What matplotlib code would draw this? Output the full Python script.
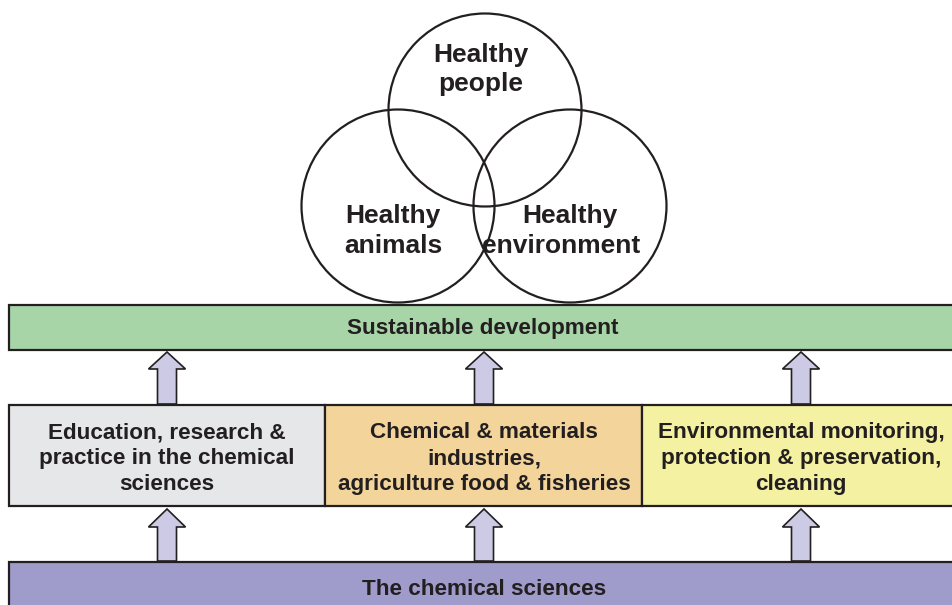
import matplotlib
matplotlib.use("Agg")
import matplotlib.pyplot as plt
from matplotlib.patches import Circle, Rectangle, FancyArrow

plt.rcParams['font.family'] = ['Liberation Sans', 'DejaVu Sans']

# Textos do diagrama
circle_labels = ['Healthy\npeople', 'Healthy\nanimals', 'Healthy\nenvironment']
top_label = 'Sustainable development'
middle_labels = ['Education, research &\npractice in the chemical\nsciences',
                 'Chemical & materials\nindustries,\nagriculture food & fisheries',
                 'Environmental monitoring,\nprotection & preservation,\ncleaning']
middle_colors = ['#e6e7e8', '#f3d59c', '#f4f1a3']
bottom_label = 'The chemical sciences'

W, H = 953, 605
edge = '#231f20'
fs_box = 16.2
fs_circ = 19

fig = plt.figure(figsize=(W / 100, H / 100), dpi=100)
ax = fig.add_axes([0, 0, 1, 1])
ax.set_xlim(0, W)
ax.set_ylim(H, 0)
ax.axis('off')

# circulos (venn)
centros = [(485, 110), (398, 206), (570, 206)]
r = 96.5
for c in centros:
    ax.add_patch(Circle(c, r, fill=False, ec=edge, lw=1.6, zorder=3))

# posicao de cada linha (x, baseline)
linhas_pos = [[(481, 62), (481, 91)],
              [(393, 223), (393, 253)],
              [(570, 223), (561, 253)]]
for lab, pos in zip(circle_labels, linhas_pos):
    for linha, (x, y) in zip(lab.split('\n'), pos):
        ax.text(x, y, linha, ha='center', va='baseline', fontsize=fs_circ,
                fontweight='bold', color=edge, zorder=4)

# barra verde
ax.add_patch(Rectangle((9, 305), 1000, 45, fc='#a7d5a8', ec=edge, lw=1.6))
ax.text(483, 334, top_label, ha='center', va='baseline', fontsize=fs_box,
        fontweight='bold', color=edge)

# caixas do meio
limites = [9, 325, 642, 1000]
for i in range(3):
    x0, x1 = limites[i], limites[i + 1]
    ax.add_patch(Rectangle((x0, 405), x1 - x0, 101, fc=middle_colors[i],
                           ec=edge, lw=1.6))
centros_x = [167, 484, 801]
for xc, lab in zip(centros_x, middle_labels):
    for k, linha in enumerate(lab.split('\n')):
        ax.text(xc, 438 + 26 * k, linha, ha='center', va='baseline',
                fontsize=fs_box, fontweight='bold', color=edge)

# barra de baixo
ax.add_patch(Rectangle((9, 562), 1000, 60, fc='#9f9bcb', ec=edge, lw=1.6))
ax.text(484, 595, bottom_label, ha='center', va='baseline', fontsize=fs_box,
        fontweight='bold', color=edge)

# setas
for xc in centros_x:
    ax.add_patch(FancyArrow(xc, 404, 0, -52, width=19, head_width=37,
                            head_length=17, length_includes_head=True,
                            fc='#cccae5', ec=edge, lw=1.2, zorder=2))
    ax.add_patch(FancyArrow(xc, 561, 0, -52, width=19, head_width=37,
                            head_length=18, length_includes_head=True,
                            fc='#cccae5', ec=edge, lw=1.2, zorder=2))

fig.savefig('out.png', dpi=100)
